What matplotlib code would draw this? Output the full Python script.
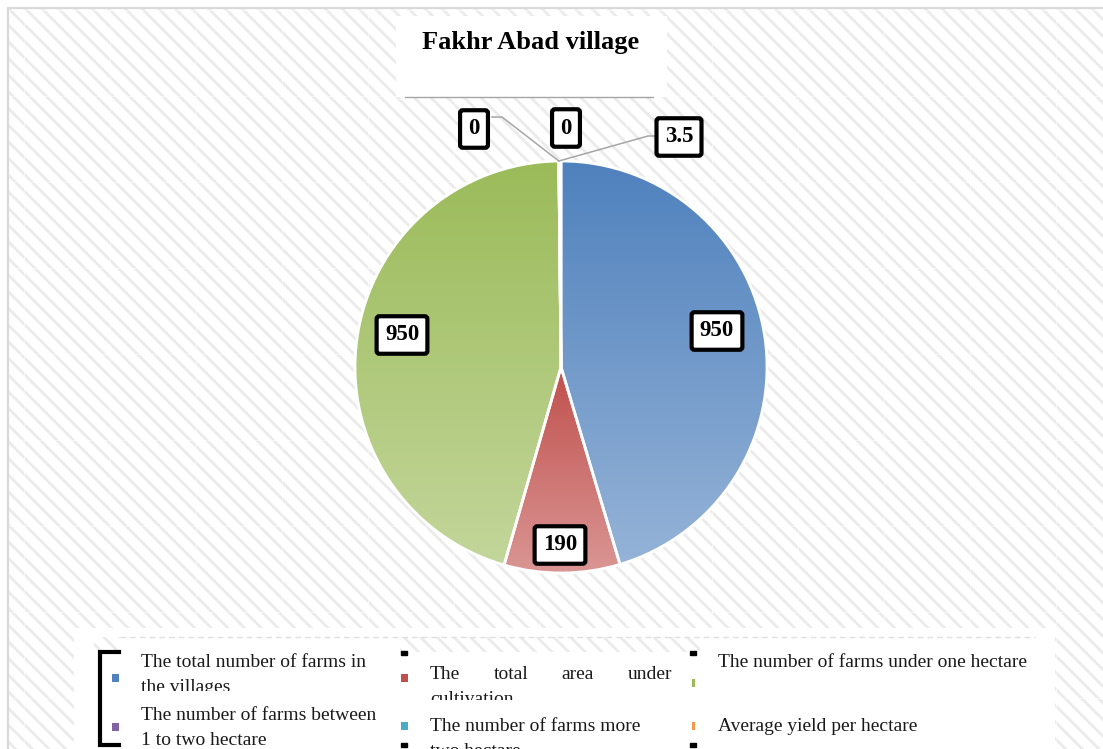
import matplotlib
matplotlib.use('Agg')
import matplotlib.pyplot as plt
import numpy as np
import textwrap
from matplotlib.patches import Rectangle
from matplotlib.colors import to_rgb
from matplotlib.transforms import Bbox, TransformedBbox

W, H = 1103, 749   # figure size in pixels, axes uses pixel units

title = 'Fakhr Abad village'
categories = ['The total number of farms in the villages',
              'The total area under cultivation',
              'The number of farms under one hectare',
              'The number of farms between 1 to two hectare',
              'The number of farms more two hectare',
              'Average yield per hectare']
values = [950, 190, 950, 0, 0, 3.5]
value_labels = ['950', '190', '950', '0', '0', '3.5']
top_colors = ['#4F81BD', '#C0504D', '#9BBB59', '#8064A2', '#4BACC6', '#F79646']
bottom_colors = ['#95B3D7', '#DA9694', '#C3D69B', '#B3A2C7', '#93CDDD', '#FAC090']

serif = ['Liberation Serif', 'DejaVu Serif']
plt.rcParams['hatch.linewidth'] = 2.0
hatch_col = '#ebebeb'


def Y(py):  # image y (top down) -> data y (bottom up)
    return H - py


fig = plt.figure(figsize=(W / 100, H / 100), dpi=100, facecolor='white')
ax = fig.add_axes([0, 0, 1, 1])

# hatched chart area background
ax.add_patch(Rectangle((8, 0), W - 8, Y(8), facecolor='white', edgecolor=hatch_col,
                       lw=0, hatch='\\\\', zorder=0))
for x in range(24, W, 86):
    ax.plot([x, x], [0, Y(8)], color='white', lw=0.8, alpha=0.5, zorder=0.5)
for y in range(10, H, 86):
    ax.plot([8, W], [Y(y), Y(y)], color='white', lw=0.8, alpha=0.5, zorder=0.5)
ax.plot([8, 8, W], [0, Y(8), Y(8)], color='#d9d9d9', lw=1.6, zorder=1)

# pie
cx, cy, R = 561, 367, 206
wedges, _ = ax.pie(values, radius=R, center=(cx, Y(cy)), startangle=90, counterclock=False,
                   colors=top_colors, wedgeprops=dict(edgecolor='white', linewidth=2.0))
ramp = np.linspace(0, 1, 256)[:, None, None]
for i, w in enumerate(wedges):
    w.set_zorder(3)
    if values[i] < 10:
        continue
    ext = w.get_path().get_extents()
    c0, c1 = np.array(to_rgb(top_colors[i])), np.array(to_rgb(bottom_colors[i]))
    img = c0 * (1 - ramp) + c1 * ramp
    im = ax.imshow(img, extent=(ext.x0, ext.x1, ext.y0, ext.y1), origin='upper',
                   aspect='auto', interpolation='bilinear', zorder=2)
    im.set_clip_path(w)
    w.set_facecolor('none')

# data labels
label_pos = [(717, 331), (560, 545), (402, 335), (474, 129), (566, 128), (679, 137)]
t0 = np.radians(wedges[3].theta1)
apex = (cx + R * np.cos(t0), Y(cy) + R * np.sin(t0))
ax.plot([apex[0], 502, 492], [apex[1], Y(117), Y(117)], color='#a6a6a6', lw=1.1, zorder=4)
ax.plot([apex[0], 648, 655], [apex[1], Y(136), Y(136)], color='#a6a6a6', lw=1.1, zorder=4)
for (px, py), lab in zip(label_pos, value_labels):
    ax.text(px, Y(py), lab, ha='center', va='center', fontsize=16.5, fontweight='bold',
            family=serif, zorder=6,
            bbox=dict(boxstyle='round,pad=0.36,rounding_size=0.12', fc='white', ec='black', lw=3))

# title box
ax.add_patch(Rectangle((396, Y(97)), 271, 81, facecolor='white', lw=0, zorder=2))
ax.plot([405, 653], [Y(97), Y(97)], color='#a6a6a6', lw=1, zorder=3)
ax.text(531, Y(43), title, ha='center', va='center', fontsize=19, fontweight='bold',
        family=serif, zorder=4)

# legend
ax.add_patch(Rectangle((74, 0), 981, Y(628), facecolor='white', lw=0, zorder=2))
ax.add_patch(Rectangle((94, Y(652)), 26, 15, facecolor='white', edgecolor=hatch_col,
                       lw=0, hatch='\\\\', zorder=2.5))
ax.add_patch(Rectangle((400, Y(652)), 300, 15, facecolor='white', edgecolor=hatch_col,
                       lw=0, hatch='\\\\', zorder=2.5))
ax.plot([120, 1035], [Y(637), Y(637)], color='#e0e0e0', lw=1, ls=(0, (4, 3)), zorder=2.6)
ax.plot([119, 100, 100, 119], [Y(652), Y(652), Y(745), Y(745)], color='black', lw=3,
        solid_joinstyle='miter', zorder=3)
for x in (404, 693):
    for y in (653, 745):
        ax.add_patch(Rectangle((x - 3, Y(y) - 2), 6, 4, color='black', zorder=3))

col_x = [141, 430, 718]
col_wrap = [28, 24, 40]
col_right = [369, 672, 1032]
row_base = [[667, 720], [679, 731], [667, 731]]
row_clip = [[691, 749], [700, 749], [749, 749]]
marker_xy = [(115, 678), (404, 678), (693, 683), (115, 727), (404, 726), (693, 726)]
marker_w = [7, 7, 3, 7, 7, 3]
justify = [False, True, False, False, False, False]
renderer = fig.canvas.get_renderer()

for i, cat in enumerate(categories):
    col, row = i % 3, i // 3
    mx, my = marker_xy[i]
    ax.add_patch(Rectangle((mx - marker_w[i] / 2, Y(my) - 4), marker_w[i], 8,
                           color=top_colors[i], lw=0, zorder=3))
    clip = TransformedBbox(Bbox([[74, Y(row_clip[col][row])], [1055, Y(0)]]), ax.transData)
    for k, line in enumerate(textwrap.wrap(cat, col_wrap[col])):
        yb = Y(row_base[col][row] + 25 * k)
        if justify[i] and k == 0:
            words = line.split()
            ts = [ax.text(0, yb, wd, fontsize=14, family=serif, color='#1a1a1a', va='baseline',
                          zorder=4, clip_on=True) for wd in words]
            widths = [t.get_window_extent(renderer).width for t in ts]
            gap = (col_right[col] - col_x[col] - sum(widths)) / (len(words) - 1)
            x = col_x[col]
            for t, wd in zip(ts, widths):
                t.set_x(x)
                t.set_clip_box(clip)
                x += wd + gap
        else:
            t = ax.text(col_x[col], yb, line, fontsize=14, family=serif, color='#1a1a1a',
                        va='baseline', zorder=4, clip_on=True)
            t.set_clip_box(clip)

ax.set_xlim(0, W)
ax.set_ylim(0, H)
ax.set_aspect('auto')
ax.axis('off')
fig.savefig('out.png', dpi=100, facecolor='white')
